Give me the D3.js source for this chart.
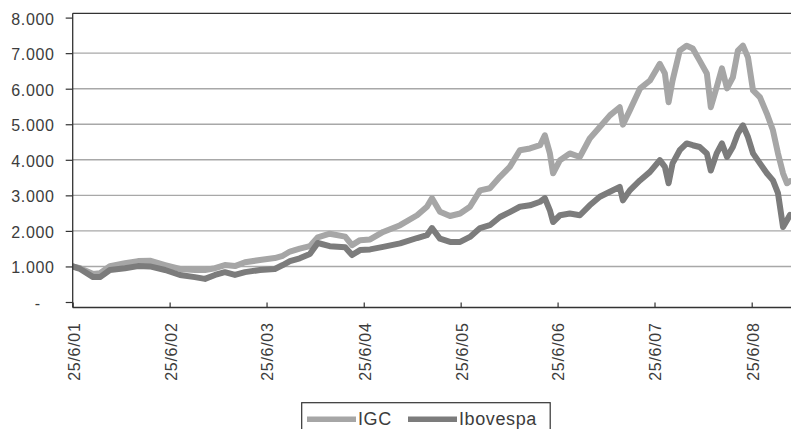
<!DOCTYPE html>
<html>
<head>
<meta charset="utf-8">
<script src="https://cdn.jsdelivr.net/npm/d3@7/dist/d3.min.js"></script>
<style>
  html, body { margin: 0; padding: 0; background: #fff; }
  svg { display: block; }
  text { font-family: "Liberation Sans", Arial, Helvetica, sans-serif; fill: #3c3c3c; }
</style>
</head>
<body>
<svg id="chart" width="791" height="429"></svg>
<script>
// Observation dates (d/m/yy) shared by both index series, base 1.000 on 25/6/01
const dates = [
  "25/6/01","23/7/01","10/9/01","6/10/01","12/11/01","8/1/02","26/2/02","12/4/02","8/6/02",
  "3/8/02","28/9/02","5/11/02","13/12/02","19/1/03","26/2/03","5/4/03","31/5/03",
  "26/7/03","25/8/03","21/9/03","28/10/03","5/12/03","4/1/04","18/2/04","16/4/04","12/5/04","11/6/04",
  "19/7/04","6/9/04","9/11/04","12/1/05","18/2/05","9/3/05","8/4/05","16/5/05","23/6/05",
  "30/7/05","6/9/05","13/10/05","20/11/05","27/12/05","3/2/06","13/3/06","20/4/06","8/5/06","27/5/06","8/6/06",
  "4/7/06","10/8/06","17/9/06","24/10/06","1/12/06","8/1/07","14/2/07","26/2/07","24/3/07","1/5/07","8/6/07",
  "15/7/07","3/8/07","17/8/07","1/9/07","28/9/07","24/10/07","16/11/07","12/12/07","8/1/08","23/1/08",
  "14/2/08","5/3/08","24/3/08","15/4/08","4/5/08","23/5/08","11/6/08",
  "30/6/08","26/7/08","21/8/08","13/9/08","2/10/08","21/10/08","5/11/08","16/11/08"
];

const igc = [
  1000, 950, 790, 810, 1010, 1090, 1150, 1160, 1040,
  930, 900, 900, 950, 1040, 1010, 1120, 1180,
  1235, 1300, 1420, 1500, 1570, 1820, 1920, 1840, 1600, 1740,
  1760, 1970, 2160, 2440, 2680, 2920, 2540, 2420, 2490,
  2680, 3140, 3200, 3520, 3800, 4270, 4320, 4410, 4690, 4180, 3620,
  3990, 4180, 4080, 4600, 4920, 5250, 5480, 4990, 5390, 6000, 6230,
  6700, 6430, 5620, 6230, 7070, 7210, 7130, 6790, 6430, 5480,
  6040, 6570, 6010, 6320, 7070, 7210, 6880,
  5950, 5760, 5300, 4830, 4180, 3620, 3340, 3400
];

const ibovespa = [
  1000, 930, 700, 700, 900, 950, 1010, 1000, 900,
  760, 700, 650, 760, 840, 760, 840, 900,
  930, 1040, 1150, 1230, 1350, 1660, 1570, 1540, 1320, 1460,
  1480, 1550, 1650, 1800, 1880, 2080, 1780, 1690, 1690,
  1830, 2080, 2160, 2390, 2530, 2680, 2720, 2820, 2920, 2580, 2250,
  2440, 2490, 2440, 2720, 2960, 3100, 3240, 2860, 3140, 3420, 3660,
  3990, 3800, 3340, 3900, 4270, 4460, 4410, 4360, 4180, 3700,
  4180, 4460, 4080, 4360, 4740, 4970, 4640,
  4180, 3900, 3620, 3420, 3060, 2110, 2300, 2450
];

const seriesNames = ["IGC", "Ibovespa"];
const xTickLabels = ["25/6/01","25/6/02","25/6/03","25/6/04","25/6/05","25/6/06","25/6/07","25/6/08"];
const yTickValues = [0, 1000, 2000, 3000, 4000, 5000, 6000, 7000, 8000];
const yTickLabels = ["-", "1.000", "2.000", "3.000", "4.000", "5.000", "6.000", "7.000", "8.000"];

const parseDate = d3.timeParse("%d/%m/%y");

const svg = d3.select("#chart");
const plot = { left: 72.7, right: 792, top: 13.3, bottom: 307.5 };

const x = d3.scaleTime()
  .domain([parseDate("25/6/01"), parseDate("20/11/08")])
  .range([plot.left, 791]);

const y = d3.scaleLinear()
  .domain([0, 8000])
  .range([302, 17.6]);

// horizontal gridlines
svg.append("g")
  .selectAll("line")
  .data(yTickValues.filter(v => v > 0 && v < 8000))
  .join("line")
  .attr("x1", plot.left).attr("x2", plot.right)
  .attr("y1", d => y(d)).attr("y2", d => y(d))
  .attr("stroke", "#a8a8a8")
  .attr("stroke-width", 1.4);

// plot frame (top edge)
svg.append("line")
  .attr("x1", plot.left).attr("x2", plot.right)
  .attr("y1", plot.top).attr("y2", plot.top)
  .attr("stroke", "#333").attr("stroke-width", 1.2);

// series lines
const rows = dates.map((d, i) => ({ date: parseDate(d), igc: igc[i], ibovespa: ibovespa[i] }));
const line = key => d3.line()
  .x(d => x(d.date))
  .y(d => y(d[key]))
  .curve(d3.curveLinear);

const colors = { igc: "#a6a6a6", ibovespa: "#7c7c7c" };

svg.append("defs").append("clipPath").attr("id", "clip")
  .append("rect").attr("x", plot.left).attr("y", plot.top)
  .attr("width", plot.right - plot.left).attr("height", plot.bottom - plot.top);

const lines = svg.append("g").attr("clip-path", "url(#clip)");
["igc", "ibovespa"].forEach(k => {
  lines.append("path")
    .datum(rows)
    .attr("fill", "none")
    .attr("stroke", colors[k])
    .attr("stroke-width", 6)
    .attr("stroke-linejoin", "round")
    .attr("stroke-linecap", "round")
    .attr("d", line(k));
});

// y axis
const yAxis = d3.axisLeft(y)
  .tickValues(yTickValues)
  .tickFormat((d, i) => yTickLabels[i])
  .tickSize(7)
  .tickSizeOuter(0)
  .tickPadding(11);
const gy = svg.append("g").attr("transform", `translate(${plot.left},0)`).call(yAxis);
gy.select(".domain").remove();
gy.selectAll(".tick line").attr("stroke", "#333").attr("stroke-width", 1.2);
gy.selectAll(".tick text")
  .attr("font-size", 16)
  .attr("letter-spacing", 0.7)
  .attr("fill", "#3c3c3c")
  .attr("dy", "0.4em")
  .attr("dx", (d) => d === 0 ? -14 : 0);
svg.append("line")
  .attr("x1", plot.left).attr("x2", plot.left)
  .attr("y1", plot.top).attr("y2", plot.bottom)
  .attr("stroke", "#333").attr("stroke-width", 1.3);

// x axis, ticks pointing up into the plot
const xTicks = xTickLabels.map(parseDate);
const xAxis = d3.axisBottom(x)
  .tickValues(xTicks)
  .tickFormat((d, i) => xTickLabels[i])
  .tickSize(-5)
  .tickSizeOuter(0);
const gx = svg.append("g").attr("transform", `translate(0,${plot.bottom})`).call(xAxis);
gx.select(".domain").remove();
gx.selectAll(".tick line").attr("stroke", "#333").attr("stroke-width", 1.2);
gx.selectAll(".tick text")
  .attr("font-size", 16)
  .attr("letter-spacing", 0.7)
  .attr("fill", "#3c3c3c")
  .attr("text-anchor", "end")
  .attr("transform", "rotate(-90)")
  .attr("x", -15)
  .attr("y", 0)
  .attr("dy", "0.4em");
svg.append("line")
  .attr("x1", plot.left).attr("x2", plot.right)
  .attr("y1", plot.bottom).attr("y2", plot.bottom)
  .attr("stroke", "#333").attr("stroke-width", 1.3);

// legend
const lg = svg.append("g");
lg.append("rect")
  .attr("x", 301.7).attr("y", 402.7)
  .attr("width", 248.5).attr("height", 40)
  .attr("fill", "#fff").attr("stroke", "#333").attr("stroke-width", 1.2);
const legendItems = [
  { name: seriesNames[0], key: "igc", x0: 307 },
  { name: seriesNames[1], key: "ibovespa", x0: 408 }
];
legendItems.forEach(it => {
  lg.append("line")
    .attr("x1", it.x0).attr("x2", it.x0 + 49)
    .attr("y1", 419.3).attr("y2", 419.3)
    .attr("stroke", colors[it.key]).attr("stroke-width", 5.5);
  lg.append("text")
    .attr("x", it.x0 + 51).attr("y", 425)
    .attr("font-size", 18)
    .attr("letter-spacing", 0.6)
    .attr("fill", "#3c3c3c")
    .text(it.name);
});
</script>
</body>
</html>
